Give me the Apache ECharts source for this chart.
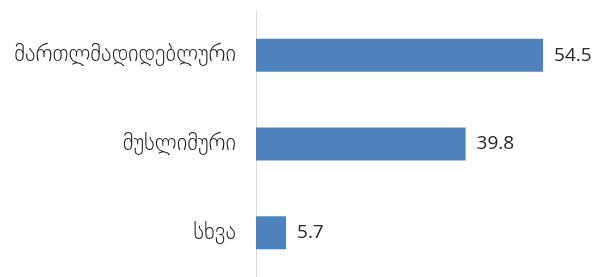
<!DOCTYPE html>
<html><head><meta charset="utf-8">
<script src="https://cdn.jsdelivr.net/npm/echarts@6/dist/echarts.min.js"></script>
<style>html,body{margin:0;padding:0;background:#fff}#c{width:600px;height:277px}</style>
</head><body><div id="c"></div>
<script>
const categories = ["მართლმადიდებლური", "მუსლიმური", "სხვა"];
const values = [54.5, 39.8, 5.7];

const chart = echarts.init(document.getElementById('c'));
chart.setOption({
  animation: false,
  grid: {left: 256, right: 28, top: 11, bottom: -1},
  xAxis: {type: 'value', min: 0, max: 60, show: false},
  yAxis: {
    type: 'category', inverse: true, data: categories,
    axisLine: {show: true, lineStyle: {color: '#d9d9d9', width: 1}},
    axisTick: {show: false},
    axisLabel: {color: '#1a1a1a', fontSize: 22.5, fontWeight: 200, fontFamily: 'DejaVu Sans', margin: 20}
  },
  series: [{
    type: 'bar', data: values, barWidth: 33,
    itemStyle: {color: '#4f81bd'},
    label: {show: true, position: 'right', distance: 11, color: '#262626', fontSize: 19, fontFamily: 'Open Sans'}
  }]
});
</script></body></html>
